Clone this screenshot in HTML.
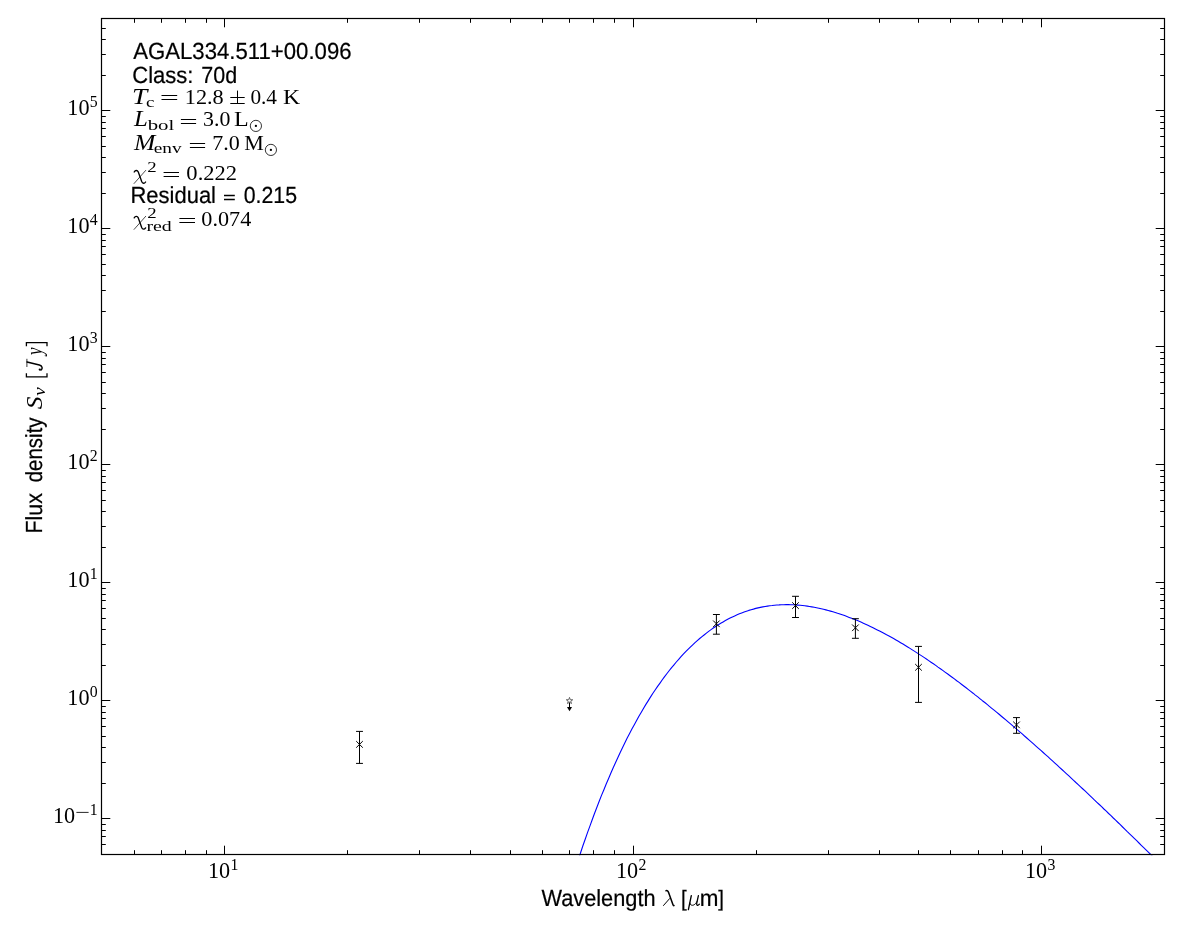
<!DOCTYPE html>
<html><head><meta charset="utf-8"><title>SED</title>
<style>html,body{margin:0;padding:0;background:#fff;overflow:hidden}body{position:relative;width:1200px;height:933px}svg{display:block;position:absolute;left:0;top:0}svg.g{filter:grayscale(1)}text{fill:#000}.s{text-rendering:geometricPrecision;stroke:#000;stroke-width:.22px;font-family:"Liberation Sans",sans-serif}.r{font-family:"Liberation Serif",serif}.i{font-family:"Liberation Serif",serif;font-style:italic}</style>
</head><body>
<svg width="1200" height="933" viewBox="0 0 1200 933">
<rect width="1200" height="933" fill="#fff"/>
<clipPath id="c"><rect x="101.5" y="18.5" width="1063.0" height="836.0"/></clipPath>
<polyline clip-path="url(#c)" transform="translate(0.2,0.7)" points="561.6,912.5 564.0,904.4 566.3,896.6 568.6,888.8 571.0,881.2 573.3,873.8 575.6,866.5 578.0,859.3 580.3,852.3 582.6,845.3 585.0,838.6 587.3,831.9 589.7,825.4 592.0,819.0 594.3,812.8 596.7,806.6 599.0,800.6 601.3,794.7 603.7,789.0 606.0,783.3 608.4,777.8 610.7,772.3 613.0,767.0 615.4,761.8 617.7,756.7 620.0,751.7 622.4,746.9 624.7,742.1 627.0,737.4 629.4,732.9 631.7,728.4 634.1,724.1 636.4,719.8 638.7,715.6 641.1,711.6 643.4,707.6 645.7,703.7 648.1,699.9 650.4,696.2 652.7,692.6 655.1,689.1 657.4,685.7 659.8,682.4 662.1,679.1 664.4,675.9 666.8,672.8 669.1,669.8 671.4,666.9 673.8,664.1 676.1,661.3 678.5,658.6 680.8,656.0 683.1,653.5 685.5,651.0 687.8,648.7 690.1,646.4 692.5,644.1 694.8,642.0 697.1,639.9 699.5,637.8 701.8,635.9 704.2,634.0 706.5,632.2 708.8,630.4 711.2,628.7 713.5,627.1 715.8,625.5 718.2,624.0 720.5,622.6 722.9,621.2 725.2,619.9 727.5,618.6 729.9,617.4 732.2,616.2 734.5,615.2 736.9,614.1 739.2,613.1 741.5,612.2 743.9,611.3 746.2,610.5 748.6,609.7 750.9,609.0 753.2,608.4 755.6,607.7 757.9,607.2 760.2,606.7 762.6,606.2 764.9,605.8 767.3,605.4 769.6,605.0 771.9,604.8 774.3,604.5 776.6,604.3 778.9,604.2 781.3,604.0 783.6,604.0 785.9,603.9 788.3,603.9 790.6,604.0 793.0,604.1 795.3,604.2 797.6,604.4 800.0,604.6 802.3,604.8 804.6,605.1 807.0,605.4 809.3,605.8 811.6,606.2 814.0,606.6 816.3,607.0 818.7,607.5 821.0,608.0 823.3,608.6 825.7,609.2 828.0,609.8 830.3,610.4 832.7,611.1 835.0,611.8 837.4,612.6 839.7,613.3 842.0,614.1 844.4,614.9 846.7,615.8 849.0,616.7 851.4,617.6 853.7,618.5 856.0,619.4 858.4,620.4 860.7,621.4 863.1,622.5 865.4,623.5 867.7,624.6 870.1,625.7 872.4,626.8 874.7,628.0 877.1,629.2 879.4,630.3 881.8,631.6 884.1,632.8 886.4,634.1 888.8,635.3 891.1,636.6 893.4,637.9 895.8,639.3 898.1,640.6 900.4,642.0 902.8,643.4 905.1,644.8 907.5,646.3 909.8,647.7 912.1,649.2 914.5,650.7 916.8,652.2 919.1,653.7 921.5,655.2 923.8,656.7 926.2,658.3 928.5,659.9 930.8,661.5 933.2,663.1 935.5,664.7 937.8,666.4 940.2,668.0 942.5,669.7 944.8,671.4 947.2,673.1 949.5,674.8 951.9,676.5 954.2,678.2 956.5,680.0 958.9,681.7 961.2,683.5 963.5,685.3 965.9,687.1 968.2,688.9 970.5,690.7 972.9,692.5 975.2,694.4 977.6,696.2 979.9,698.1 982.2,700.0 984.6,701.8 986.9,703.7 989.2,705.6 991.6,707.6 993.9,709.5 996.3,711.4 998.6,713.3 1000.9,715.3 1003.3,717.3 1005.6,719.2 1007.9,721.2 1010.3,723.2 1012.6,725.2 1014.9,727.2 1017.3,729.2 1019.6,731.2 1022.0,733.2 1024.3,735.3 1026.6,737.3 1029.0,739.4 1031.3,741.4 1033.6,743.5 1036.0,745.6 1038.3,747.6 1040.7,749.7 1043.0,751.8 1045.3,753.9 1047.7,756.0 1050.0,758.1 1052.3,760.2 1054.7,762.4 1057.0,764.5 1059.3,766.6 1061.7,768.8 1064.0,770.9 1066.4,773.1 1068.7,775.2 1071.0,777.4 1073.4,779.6 1075.7,781.8 1078.0,783.9 1080.4,786.1 1082.7,788.3 1085.1,790.5 1087.4,792.7 1089.7,794.9 1092.1,797.1 1094.4,799.4 1096.7,801.6 1099.1,803.8 1101.4,806.0 1103.7,808.3 1106.1,810.5 1108.4,812.8 1110.8,815.0 1113.1,817.3 1115.4,819.5 1117.8,821.8 1120.1,824.0 1122.4,826.3 1124.8,828.6 1127.1,830.9 1129.4,833.1 1131.8,835.4 1134.1,837.7 1136.5,840.0 1138.8,842.3 1141.1,844.6 1143.5,846.9 1145.8,849.2 1148.1,851.5 1150.5,853.8 1152.8,856.1 1155.2,858.5 1157.5,860.8 1159.8,863.1 1162.2,865.4 1164.5,867.8" fill="none" stroke="#0000ff" stroke-width="1.1" stroke-linejoin="round"/>
</svg>
<svg class="g" width="1200" height="933" viewBox="0 0 1200 933">
<path d="M101.50 854.5v-4.3M101.50 18.5v4.3M134.50 854.5v-4.3M134.50 18.5v4.3M161.50 854.5v-4.3M161.50 18.5v4.3M185.50 854.5v-4.3M185.50 18.5v4.3M206.50 854.5v-4.3M206.50 18.5v4.3M224.50 854.5v-8.8M224.50 18.5v8.8M347.50 854.5v-4.3M347.50 18.5v4.3M419.50 854.5v-4.3M419.50 18.5v4.3M470.50 854.5v-4.3M470.50 18.5v4.3M510.50 854.5v-4.3M510.50 18.5v4.3M542.50 854.5v-4.3M542.50 18.5v4.3M569.50 854.5v-4.3M569.50 18.5v4.3M593.50 854.5v-4.3M593.50 18.5v4.3M614.50 854.5v-4.3M614.50 18.5v4.3M633.50 854.5v-8.8M633.50 18.5v8.8M756.50 854.5v-4.3M756.50 18.5v4.3M828.50 854.5v-4.3M828.50 18.5v4.3M879.50 854.5v-4.3M879.50 18.5v4.3M918.50 854.5v-4.3M918.50 18.5v4.3M950.50 854.5v-4.3M950.50 18.5v4.3M978.50 854.5v-4.3M978.50 18.5v4.3M1002.50 854.5v-4.3M1002.50 18.5v4.3M1022.50 854.5v-4.3M1022.50 18.5v4.3M1041.50 854.5v-8.8M1041.50 18.5v8.8M1164.50 854.5v-4.3M1164.50 18.5v4.3M101.5 854.50h4.3M1164.5 854.50h-4.3M101.5 844.50h4.3M1164.5 844.50h-4.3M101.5 836.50h4.3M1164.5 836.50h-4.3M101.5 830.50h4.3M1164.5 830.50h-4.3M101.5 824.50h4.3M1164.5 824.50h-4.3M101.5 818.50h8.8M1164.5 818.50h-8.8M101.5 783.50h4.3M1164.5 783.50h-4.3M101.5 762.50h4.3M1164.5 762.50h-4.3M101.5 747.50h4.3M1164.5 747.50h-4.3M101.5 736.50h4.3M1164.5 736.50h-4.3M101.5 726.50h4.3M1164.5 726.50h-4.3M101.5 718.50h4.3M1164.5 718.50h-4.3M101.5 712.50h4.3M1164.5 712.50h-4.3M101.5 706.50h4.3M1164.5 706.50h-4.3M101.5 700.50h8.8M1164.5 700.50h-8.8M101.5 665.50h4.3M1164.5 665.50h-4.3M101.5 644.50h4.3M1164.5 644.50h-4.3M101.5 629.50h4.3M1164.5 629.50h-4.3M101.5 618.50h4.3M1164.5 618.50h-4.3M101.5 608.50h4.3M1164.5 608.50h-4.3M101.5 600.50h4.3M1164.5 600.50h-4.3M101.5 594.50h4.3M1164.5 594.50h-4.3M101.5 588.50h4.3M1164.5 588.50h-4.3M101.5 582.50h8.8M1164.5 582.50h-8.8M101.5 547.50h4.3M1164.5 547.50h-4.3M101.5 526.50h4.3M1164.5 526.50h-4.3M101.5 511.50h4.3M1164.5 511.50h-4.3M101.5 500.50h4.3M1164.5 500.50h-4.3M101.5 490.50h4.3M1164.5 490.50h-4.3M101.5 482.50h4.3M1164.5 482.50h-4.3M101.5 476.50h4.3M1164.5 476.50h-4.3M101.5 470.50h4.3M1164.5 470.50h-4.3M101.5 464.50h8.8M1164.5 464.50h-8.8M101.5 429.50h4.3M1164.5 429.50h-4.3M101.5 408.50h4.3M1164.5 408.50h-4.3M101.5 393.50h4.3M1164.5 393.50h-4.3M101.5 382.50h4.3M1164.5 382.50h-4.3M101.5 372.50h4.3M1164.5 372.50h-4.3M101.5 364.50h4.3M1164.5 364.50h-4.3M101.5 358.50h4.3M1164.5 358.50h-4.3M101.5 352.50h4.3M1164.5 352.50h-4.3M101.5 346.50h8.8M1164.5 346.50h-8.8M101.5 311.50h4.3M1164.5 311.50h-4.3M101.5 290.50h4.3M1164.5 290.50h-4.3M101.5 275.50h4.3M1164.5 275.50h-4.3M101.5 264.50h4.3M1164.5 264.50h-4.3M101.5 254.50h4.3M1164.5 254.50h-4.3M101.5 246.50h4.3M1164.5 246.50h-4.3M101.5 240.50h4.3M1164.5 240.50h-4.3M101.5 234.50h4.3M1164.5 234.50h-4.3M101.5 228.50h8.8M1164.5 228.50h-8.8M101.5 193.50h4.3M1164.5 193.50h-4.3M101.5 172.50h4.3M1164.5 172.50h-4.3M101.5 157.50h4.3M1164.5 157.50h-4.3M101.5 146.50h4.3M1164.5 146.50h-4.3M101.5 136.50h4.3M1164.5 136.50h-4.3M101.5 128.50h4.3M1164.5 128.50h-4.3M101.5 122.50h4.3M1164.5 122.50h-4.3M101.5 116.50h4.3M1164.5 116.50h-4.3M101.5 110.50h8.8M1164.5 110.50h-8.8M101.5 75.50h4.3M1164.5 75.50h-4.3M101.5 54.50h4.3M1164.5 54.50h-4.3M101.5 39.50h4.3M1164.5 39.50h-4.3M101.5 28.50h4.3M1164.5 28.50h-4.3M101.5 18.50h4.3M1164.5 18.50h-4.3" stroke="#000" stroke-width="1.0" fill="none"/>
<rect x="101.5" y="18.5" width="1063.0" height="836.0" fill="none" stroke="#000" stroke-width="1.2"/>
<text x="207.90" y="878.00" class="r" font-size="22.2">10</text><text x="230.40" y="870.00" class="r" font-size="15.8">1</text>
<text x="615.90" y="878.00" class="r" font-size="22.2">10</text><text x="638.40" y="870.00" class="r" font-size="15.8">2</text>
<text x="1025.00" y="878.00" class="r" font-size="22.2">10</text><text x="1047.50" y="870.00" class="r" font-size="15.8">3</text>
<text x="53.00" y="823.10" class="r" font-size="22.2">10</text><path d="M76.40 812.40h12.2" stroke="#000" stroke-width="0.85"/><text x="89.80" y="815.10" class="r" font-size="15.8">1</text>
<text x="67.30" y="705.10" class="r" font-size="22.2">10</text><text x="89.80" y="697.10" class="r" font-size="15.8">0</text>
<text x="67.30" y="587.10" class="r" font-size="22.2">10</text><text x="89.80" y="579.10" class="r" font-size="15.8">1</text>
<text x="67.30" y="469.10" class="r" font-size="22.2">10</text><text x="89.80" y="461.10" class="r" font-size="15.8">2</text>
<text x="67.30" y="351.10" class="r" font-size="22.2">10</text><text x="89.80" y="343.10" class="r" font-size="15.8">3</text>
<text x="67.30" y="233.10" class="r" font-size="22.2">10</text><text x="89.80" y="225.10" class="r" font-size="15.8">4</text>
<text x="67.30" y="115.10" class="r" font-size="22.2">10</text><text x="89.80" y="107.10" class="r" font-size="15.8">5</text>
<path d="M359.5 731.4V763.4M356.05 731.4h6.9M356.05 763.4h6.9" stroke="#000" stroke-width="1.0" fill="none"/><path d="M356.2 741.1l6.6 6.6M356.2 747.6999999999999l6.6 -6.6" stroke="#000" stroke-width="1.0" fill="none"/>
<path d="M716.4 614.5V634.2M712.9499999999999 614.5h6.9M712.9499999999999 634.2h6.9" stroke="#000" stroke-width="1.0" fill="none"/><path d="M713.1 620.5l6.6 6.6M713.1 627.0999999999999l6.6 -6.6" stroke="#000" stroke-width="1.0" fill="none"/>
<path d="M795.5 596.3V617.5M792.05 596.3h6.9M792.05 617.5h6.9" stroke="#000" stroke-width="1.0" fill="none"/><path d="M792.2 602.3000000000001l6.6 6.6M792.2 608.9l6.6 -6.6" stroke="#000" stroke-width="1.0" fill="none"/>
<path d="M855.4 618.7V638.3M851.9499999999999 618.7h6.9M851.9499999999999 638.3h6.9" stroke="#000" stroke-width="1.0" fill="none"/><path d="M852.1 624.5l6.6 6.6M852.1 631.0999999999999l6.6 -6.6" stroke="#000" stroke-width="1.0" fill="none"/>
<path d="M918.5 646.4V702.4M915.05 646.4h6.9M915.05 702.4h6.9" stroke="#000" stroke-width="1.0" fill="none"/><path d="M915.2 664.0l6.6 6.6M915.2 670.5999999999999l6.6 -6.6" stroke="#000" stroke-width="1.0" fill="none"/>
<path d="M1016.5 717.6V733.3M1013.05 717.6h6.9M1013.05 733.3h6.9" stroke="#000" stroke-width="1.0" fill="none"/><path d="M1013.2 721.6l6.6 6.6M1013.2 728.1999999999999l6.6 -6.6" stroke="#000" stroke-width="1.0" fill="none"/>
<path d="M569.5 700.8V707.5" stroke="#000" stroke-width="1.0"/>
<polygon points="567.0,707 572.0,707 569.5,711.2" fill="#000"/>
<polygon points="569.50,697.40 570.29,699.71 572.73,699.75 570.78,701.22 571.50,703.55 569.50,702.15 567.50,703.55 568.22,701.22 566.27,699.75 568.71,699.71" fill="#fff" stroke="#555" stroke-width="0.9"/>
<text x="133.19" y="59" class="s" font-size="23.3" textLength="218.38" lengthAdjust="spacingAndGlyphs">AGAL334.511+00.096</text>
<text x="132.26" y="83" class="s" font-size="23.3" textLength="61.19" lengthAdjust="spacingAndGlyphs">Class:</text>
<text x="201.29" y="83" class="s" font-size="23.3" textLength="35.88" lengthAdjust="spacingAndGlyphs">70d</text>
<text x="131.94" y="103.7" class="i" font-size="22.6" textLength="15.24" lengthAdjust="spacingAndGlyphs">T</text>
<text x="146.12" y="106.5" class="r" font-size="15.6" textLength="8.40" lengthAdjust="spacingAndGlyphs">c</text>
<text x="184.76" y="103.7" class="r" font-size="22.0" textLength="38.94" lengthAdjust="spacingAndGlyphs">12.8</text>
<text x="250.38" y="103.7" class="r" font-size="22.0" textLength="26.65" lengthAdjust="spacingAndGlyphs">0.4</text>
<text x="283.10" y="103.7" class="r" font-size="22.0" textLength="17.16" lengthAdjust="spacingAndGlyphs">K</text>
<text x="134.00" y="126.4" class="i" font-size="22.6" textLength="13.86" lengthAdjust="spacingAndGlyphs">L</text>
<text x="147.70" y="129.7" class="r" font-size="15.6" textLength="26.58" lengthAdjust="spacingAndGlyphs">bol</text>
<text x="203.01" y="126.4" class="r" font-size="22.0" textLength="27.30" lengthAdjust="spacingAndGlyphs">3.0</text>
<text x="234.14" y="126.4" class="r" font-size="22.0" textLength="14.68" lengthAdjust="spacingAndGlyphs">L</text>
<text x="133.92" y="150.3" class="i" font-size="22.6" textLength="21.32" lengthAdjust="spacingAndGlyphs">M</text>
<text x="153.76" y="153.2" class="r" font-size="15.6" textLength="27.88" lengthAdjust="spacingAndGlyphs">env</text>
<text x="212.18" y="150.3" class="r" font-size="22.0" textLength="27.54" lengthAdjust="spacingAndGlyphs">7.0</text>
<text x="244.20" y="150.3" class="r" font-size="22.0" textLength="19.56" lengthAdjust="spacingAndGlyphs">M</text>
<text x="147.35" y="171.6" class="r" font-size="15.6" textLength="9.40" lengthAdjust="spacingAndGlyphs">2</text>
<text x="186.38" y="180.1" class="r" font-size="22.0" textLength="50.75" lengthAdjust="spacingAndGlyphs">0.222</text>
<text x="130.47" y="203" class="s" font-size="23.3" textLength="85.52" lengthAdjust="spacingAndGlyphs">Residual</text>
<text x="243.67" y="203" class="s" font-size="23.3" textLength="53.35" lengthAdjust="spacingAndGlyphs">0.215</text>
<text x="147.35" y="217.7" class="r" font-size="15.6" textLength="9.40" lengthAdjust="spacingAndGlyphs">2</text>
<text x="146.43" y="231.4" class="r" font-size="15.6" textLength="25.36" lengthAdjust="spacingAndGlyphs">red</text>
<text x="201.39" y="225.7" class="r" font-size="22.0" textLength="49.92" lengthAdjust="spacingAndGlyphs">0.074</text>
<text x="541.42" y="906" class="s" font-size="23.3" textLength="114.23" lengthAdjust="spacingAndGlyphs">Wavelength</text>
<text x="680.92" y="906" class="s" font-size="22.2" textLength="5.72" lengthAdjust="spacingAndGlyphs">[</text>
<text x="699.86" y="906" class="s" font-size="23.3" textLength="18.70" lengthAdjust="spacingAndGlyphs">m</text>
<text x="718.29" y="906" class="s" font-size="22.2" textLength="5.72" lengthAdjust="spacingAndGlyphs">]</text>
<g transform="translate(42.0,532.6) rotate(-90)"><text x="-0.88" y="0" class="s" font-size="23.3" textLength="40.47" lengthAdjust="spacingAndGlyphs">Flux</text><text x="50.33" y="0" class="s" font-size="23.3" textLength="64.84" lengthAdjust="spacingAndGlyphs">density</text><text x="123.47" y="0" class="i" font-size="22.6" textLength="12.74" lengthAdjust="spacingAndGlyphs">S</text><text x="136.82" y="3.3" class="i" font-size="15.8" textLength="8.47" lengthAdjust="spacingAndGlyphs">ν</text><text x="177.65" y="0" class="i" font-size="22.6" textLength="7.47" lengthAdjust="spacingAndGlyphs">y</text><path d="M159.3 -15.6H155.7V5.0H159.3M186.3 -15.6H189.9V5.0H186.3" fill="none" stroke="#000" stroke-width="1.3"/><g fill="none" stroke="#000" stroke-linecap="round"><path d="M166.0 -15.1H173.4" stroke-width="0.8"/><path d="M170.6 -15.0L167.6 -2.6C166.9 0.4 163.8 1.0 162.5 -1.0" stroke-width="1.45"/></g><circle cx="163.0" cy="-2.2" r="1.15" fill="#000"/></g>
<g fill="none" stroke="#000" stroke-linecap="round" stroke-linejoin="round"><path d="M666.0 890.7C667.3 890.2 668.0 890.9 668.5 892.3L672.9 904.6C673.2 905.5 673.6 905.7 674.0 905.6" stroke-width="1.5"/><path d="M669.6 898.6L663.5 905.5" stroke-width="1.0"/><path d="M691.3 895.6L688.4 909.6" stroke-width="1.35"/><path d="M689.9 903.0C689.9 906.2 694.6 906.6 696.9 901.6" stroke-width="1.0"/><path d="M698.4 895.6L696.7 903.4C696.4 905.6 697.8 906.1 699.4 904.2" stroke-width="1.3"/></g>
<path d="M161.5 95.5H177.2M161.5 99.5H177.2" stroke="#000" stroke-width="1.0"/>
<path d="M230.3 97.5H244.7M237.5 90.6V103M230.3 103.5H244.7" stroke="#000" stroke-width="1.0" fill="none"/>
<path d="M180.9 119.5H196.1M180.9 123.5H196.1" stroke="#000" stroke-width="1.0"/>
<circle cx="255.9" cy="125.9" r="5.6" fill="none" stroke="#000" stroke-width="0.8"/><circle cx="255.9" cy="125.9" r="1.15" fill="#000"/>
<path d="M189.9 143.5H205.1M189.9 147.5H205.1" stroke="#000" stroke-width="1.0"/>
<circle cx="270.9" cy="149.9" r="5.6" fill="none" stroke="#000" stroke-width="0.8"/><circle cx="270.9" cy="149.9" r="1.15" fill="#000"/>
<g transform="translate(133.8,170.0)" fill="none" stroke="#000" stroke-linecap="round"><path d="M0.3 13.5L11.9 0.4" stroke-width="0.7"/><path d="M0.4 2.0C1.4 0.3 3.4 -0.2 4.5 2.0L7.9 11.6C8.7 13.7 10.6 13.8 11.8 12.0" stroke-width="1.35"/></g>
<path d="M163.6 172.5H179.0M163.6 176.5H179.0" stroke="#000" stroke-width="1.0"/>
<path d="M224.0 195.4H234.8M224.0 199.6H234.8" stroke="#000" stroke-width="1.5"/>
<g transform="translate(133.8,215.9)" fill="none" stroke="#000" stroke-linecap="round"><path d="M0.3 13.5L11.9 0.4" stroke-width="0.7"/><path d="M0.4 2.0C1.4 0.3 3.4 -0.2 4.5 2.0L7.9 11.6C8.7 13.7 10.6 13.8 11.8 12.0" stroke-width="1.35"/></g>
<path d="M179.4 218.5H195.0M179.4 222.5H195.0" stroke="#000" stroke-width="1.0"/>
</svg>
</body></html>
